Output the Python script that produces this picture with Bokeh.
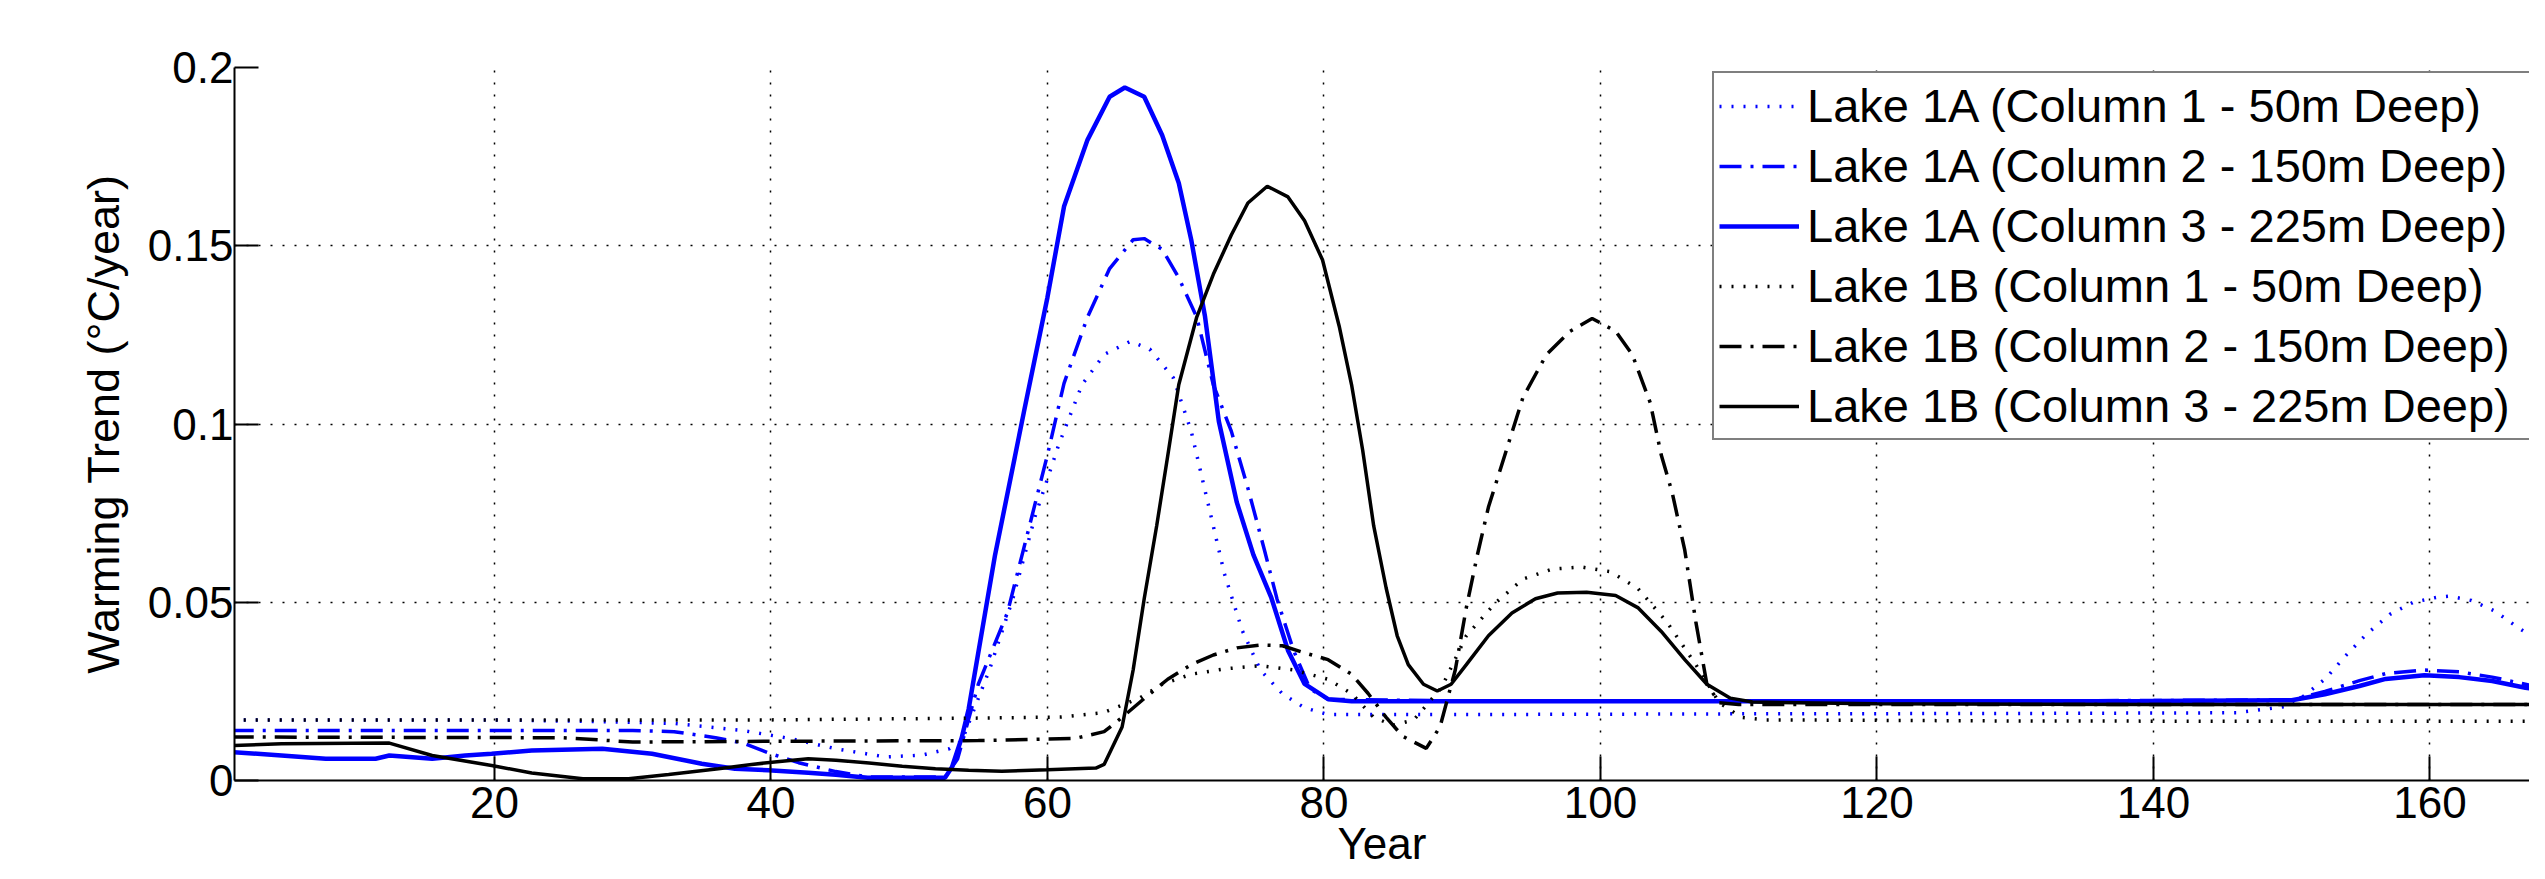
from bokeh.plotting import figure
from bokeh.models import Range1d, FixedTicker, Legend, LegendItem
from bokeh.embed import file_html
from bokeh.resources import INLINE

# ---------------- data ----------------
x_ticks = [20, 40, 60, 80, 100, 120, 140, 160]
y_ticks = [0, 0.05, 0.1, 0.15, 0.2]
y_tick_labels = ["0", "0.05", "0.1", "0.15", "0.2"]

labels = [
    "Lake 1A (Column 1 - 50m Deep)",
    "Lake 1A (Column 2 - 150m Deep)",
    "Lake 1A (Column 3 - 225m Deep)",
    "Lake 1B (Column 1 - 50m Deep)",
    "Lake 1B (Column 2 - 150m Deep)",
    "Lake 1B (Column 3 - 225m Deep)",
]

yrs_a1 = [1, 10, 20, 28, 33, 38, 41.5, 44.7, 48.3, 50.9, 52.9, 53.8, 55.8, 57.5, 59.1, 60.8,
          62.5, 64.1, 66.0, 67.4, 69.1, 70.4, 71.6, 72.8, 74.1, 75.4, 77.0, 78.6, 80.3, 90,
          110, 130, 146, 150, 152.4, 153.9, 155.4, 157.1, 158.8, 160.5, 161.4, 163.0, 164.7,
          166.4, 168]
val_a1 = [0.017, 0.017, 0.017, 0.0165, 0.016, 0.014, 0.0117, 0.0089, 0.0066, 0.0071, 0.0089,
          0.011, 0.031, 0.051, 0.074, 0.094, 0.111, 0.1195, 0.1232, 0.121, 0.113, 0.098, 0.078,
          0.058, 0.042, 0.031, 0.0243, 0.0204, 0.0185, 0.0185, 0.0187, 0.0188, 0.019, 0.021,
          0.0284, 0.035, 0.041, 0.0466, 0.050, 0.0514, 0.0517, 0.0505, 0.0475, 0.0428, 0.039]

yrs_a2 = [1, 10, 20, 30, 33, 36, 38, 40, 42, 44.7, 47, 52.6, 53.5, 55, 57.1, 58.7, 60, 61.2,
          62.9, 64.5, 66.2, 67, 68.3, 69.5, 70.8, 72, 73.3, 74.5, 75.7, 76.6, 77.8, 79, 80.3,
          90, 110, 130, 150, 152.4, 154.9, 156.8, 159.6, 162.1, 164.5, 166.9, 168]
val_a2 = [0.014, 0.014, 0.014, 0.014, 0.0137, 0.012, 0.0105, 0.0075, 0.005, 0.0025, 0.001,
          0.001, 0.006, 0.027, 0.047, 0.0714, 0.0913, 0.1114, 0.130, 0.1436, 0.1517, 0.152,
          0.149, 0.141, 0.130, 0.111, 0.098, 0.082, 0.0646, 0.051, 0.0365, 0.0257, 0.0228,
          0.0223, 0.0223, 0.0223, 0.0226, 0.025, 0.028, 0.030, 0.031, 0.0305, 0.029, 0.027,
          0.026]

yrs_a3 = [1, 4.6, 7.8, 11.4, 12.4, 15.5, 17.9, 19.8, 22.7, 27.8, 31.4, 35, 37.4, 39.8, 42.7,
          44.7, 47, 52.6, 53.1, 53.8, 54.3, 56.2, 58.3, 60, 61.2, 62.9, 64.5, 65.6, 67, 68.3,
          69.5, 70.4, 71.4, 72.4, 73.7, 74.9, 76.2, 77.4, 78.6, 80.3, 82, 100, 120, 140, 150,
          152.4, 154.9, 156.8, 159.6, 162.1, 164.5, 166.9, 168]
val_a3 = [0.008, 0.007, 0.0061, 0.0061, 0.007, 0.0061, 0.007, 0.0075, 0.0084, 0.0089, 0.0075,
          0.0047, 0.0033, 0.0029, 0.0022, 0.0016, 0.0008, 0.0008, 0.0038, 0.012, 0.02, 0.063,
          0.1034, 0.1355, 0.161, 0.1797, 0.1918, 0.1944, 0.1918, 0.181, 0.1676, 0.1517, 0.1301,
          0.1007, 0.078, 0.0633, 0.0512, 0.0365, 0.0271, 0.0228, 0.0222, 0.0222, 0.0222,
          0.0223, 0.0225, 0.0242, 0.0265, 0.0285, 0.0295, 0.029, 0.0279, 0.026, 0.0255]

yrs_b1 = [1, 20, 40, 55, 61, 64, 66.6, 68.3, 70.4, 72.8, 75.4, 77.8, 80.3, 82, 83.6, 85, 86.5,
          88.5, 90.3, 92.4, 94.4, 96.5, 98.6, 100.7, 102.7, 104.8, 106.9, 108.6, 110.2, 112,
          130, 150, 168]
val_b1 = [0.017, 0.017, 0.017, 0.0175, 0.0178, 0.019, 0.023, 0.027, 0.0298, 0.0313, 0.0322,
          0.031, 0.0284, 0.0244, 0.0177, 0.0155, 0.017, 0.026, 0.0406, 0.0498, 0.0565, 0.0593,
          0.0599, 0.0586, 0.0539, 0.0445, 0.0325, 0.0218, 0.0177, 0.017, 0.0167, 0.0166,
          0.0166]

yrs_b2 = [1, 25, 30, 40, 55, 62, 64.1, 65.4, 67, 68.7, 70.4, 72, 73.7, 75.4, 77, 78.6, 80.3,
          82, 83.2, 84.5, 85.7, 87.4, 88.4, 89.5, 90.3, 91.1, 91.9, 93.2, 94.4, 96.1, 97.8,
          99.4, 101.1, 102.3, 103.6, 104.4, 105.2, 106.1, 106.9, 107.7, 108.6, 110, 130, 150,
          168]
val_b2 = [0.0122, 0.012, 0.0108, 0.011, 0.0112, 0.0118, 0.0137, 0.0177, 0.023, 0.0284, 0.0325,
          0.0352, 0.0372, 0.038, 0.0378, 0.0358, 0.0339, 0.0298, 0.0244, 0.0177, 0.0124, 0.009,
          0.0151, 0.031, 0.0485, 0.0633, 0.0767, 0.0927, 0.1075, 0.1195, 0.126, 0.1296, 0.126,
          0.1195, 0.106, 0.0913, 0.0806, 0.0646, 0.0445, 0.027, 0.0218, 0.0213, 0.0213, 0.0213,
          0.0213]

yrs_b3 = [1, 4.6, 12.4, 15.5, 19.8, 22.7, 26.4, 29.7, 32.6, 36.2, 38.6, 41, 42.7, 44.7, 47.1,
          49.5, 51.9, 54.3, 56.7, 60, 63.5, 64.1, 65.4, 66.2, 67, 67.9, 68.7, 69.5, 70.8, 72,
          73.3, 74.5, 75.9, 77.4, 78.6, 79.9, 81.1, 82, 82.8, 83.6, 84.5, 85.3, 86.1, 87.2,
          88.2, 89.2, 90.3, 91.9, 93.6, 95.3, 96.9, 99, 101.1, 102.7, 104.4, 106.1, 107.7,
          109.4, 111, 120, 140, 168]
val_b3 = [0.0098, 0.0103, 0.0105, 0.007, 0.0042, 0.0021, 0.0005, 0.0005, 0.0017, 0.0033, 0.0045,
          0.0055, 0.0061, 0.0057, 0.0049, 0.004, 0.0033, 0.0029, 0.0026, 0.003, 0.0035, 0.0045,
          0.015, 0.031, 0.051, 0.0714, 0.091, 0.111, 0.130, 0.142, 0.153, 0.162, 0.1667,
          0.1637, 0.157, 0.146, 0.1275, 0.111, 0.0927, 0.0714, 0.054, 0.0406, 0.0325, 0.027,
          0.0251, 0.027, 0.0325, 0.0406, 0.047, 0.051, 0.0526, 0.0528, 0.0519, 0.0485, 0.0418,
          0.0339, 0.027, 0.0231, 0.022, 0.0215, 0.0213, 0.0213]

series = [
    (yrs_a1, val_a1, "#0000ff", "2 10", 3.5),
    (yrs_a2, val_a2, "#0000ff", "22 9 3 9", 3.5),
    (yrs_a3, val_a3, "#0000ff", "solid", 4.5),
    (yrs_b1, val_b1, "#000000", "2 10", 3.5),
    (yrs_b2, val_b2, "#000000", "22 9 3 9", 3.5),
    (yrs_b3, val_b3, "#000000", "solid", 3.5),
]

FONT = "Liberation Sans"

p = figure(width=2529, height=870, output_backend="svg", toolbar_location=None,
           x_range=Range1d(1.2, 167.2), y_range=Range1d(0, 0.2),
           min_border_left=234, min_border_right=0, min_border_top=67,
           min_border_bottom=88)
p.outline_line_color = None
p.background_fill_color = "white"
p.border_fill_color = "white"

# grid
for g in (p.xgrid[0], p.ygrid[0]):
    g.grid_line_color = "black"
    g.grid_line_dash = "2 10"
    g.grid_line_width = 1.5

# axes
p.xaxis.ticker = FixedTicker(ticks=x_ticks)
p.yaxis.ticker = FixedTicker(ticks=y_ticks)
p.yaxis.major_label_overrides = {t: s for t, s in zip(y_ticks, y_tick_labels)}
p.xaxis.major_label_overrides = {t: str(t) for t in x_ticks}
for ax in (p.xaxis[0], p.yaxis[0]):
    ax.axis_line_color = "black"
    ax.axis_line_width = 2
    ax.major_tick_in = 24
    ax.major_tick_out = 0
    ax.major_tick_line_width = 2
    ax.major_tick_line_color = "black"
    ax.minor_tick_line_color = None
    ax.major_label_text_font = FONT
    ax.major_label_text_font_size = "44px"
    ax.major_label_text_color = "black"
    ax.axis_label_text_font = FONT
    ax.axis_label_text_font_style = "normal"
    ax.axis_label_text_color = "black"
p.xaxis.major_label_standoff = 6
p.yaxis.major_label_standoff = 1
p.yaxis.axis_label = "Warming Trend (°C/year)"
p.yaxis.axis_label_text_font_size = "45px"
p.yaxis.axis_label_standoff = 16
p.xaxis.axis_label = "Year"
p.xaxis.axis_label_text_font_size = "44px"
p.xaxis.axis_label_standoff = -2

# lines
items = []
for (xs, ys, col, dash, lw), lab in zip(series, labels):
    r = p.line(xs, ys, line_color=col, line_width=lw, line_dash=dash)
    items.append(LegendItem(label=lab, renderers=[r]))

# legend box runs past the right edge, as in the (cropped) reference
legend = Legend(items=items, location=(1478, 340), margin=0, padding=5, spacing=5,
                glyph_width=80, glyph_height=40, label_standoff=8, label_width=780,
                label_text_font=FONT, label_text_font_size="47px",
                label_text_color="black",
                border_line_color="black", border_line_width=2,
                background_fill_color="white", background_fill_alpha=1)
p.add_layout(legend)

open("out.html", "w").write(file_html(p, INLINE))
